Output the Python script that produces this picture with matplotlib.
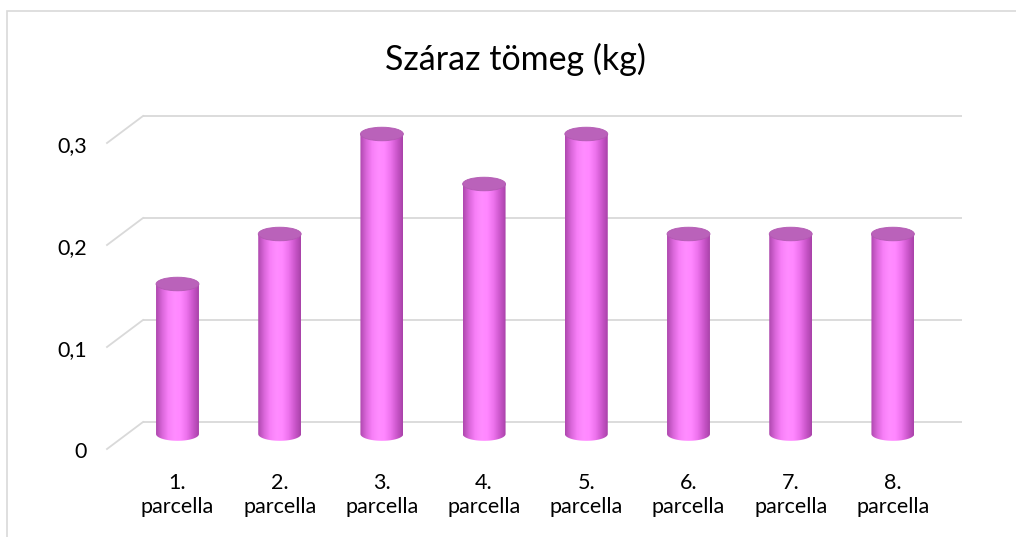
import numpy as np
import matplotlib
matplotlib.use("Agg")
import matplotlib.pyplot as plt
from matplotlib.patches import Polygon, Ellipse, Rectangle

# ---- data ----
categories = ["1.\nparcella", "2.\nparcella", "3.\nparcella", "4.\nparcella",
              "5.\nparcella", "6.\nparcella", "7.\nparcella", "8.\nparcella"]
values = [0.15, 0.2, 0.3, 0.25, 0.3, 0.2, 0.2, 0.2]
yticks = [0, 0.1, 0.2, 0.3]
ytick_labels = ["0", "0,1", "0,2", "0,3"]
title = "Száraz tömeg (kg)"

plt.rcParams['font.family'] = ['Lato', 'DejaVu Sans']

W, H = 1016, 537
fig = plt.figure(figsize=(W / 100, H / 100), dpi=100)

# pixel geometry helpers
px0, pdx = 177.5, 102.2      # center of first bar, spacing (px)
py0, pscale = 434.0, 1000.0  # baseline of cylinders (px from top), px per unit
ax_l, ax_r, ax_t, ax_b = 100, 970, 95, 470
ax = fig.add_axes([ax_l / W, 1 - ax_b / H, (ax_r - ax_l) / W, (ax_b - ax_t) / H])
ax.set_axis_off()

def xd(px):
    return (px - px0) / pdx

def yd(py):
    return (py0 - py) / pscale

grid_c = "#D9D9D9"
back_off = 0.012
front_off = -0.015
gscale = 1.02
for t in yticks:
    vb = back_off + gscale * t
    vf = front_off + gscale * t
    ax.plot([xd(143), xd(962)], [vb, vb], color=grid_c, lw=1.3, zorder=1,
            solid_capstyle='butt')
    ax.plot([xd(107), xd(143)], [vf, vb], color=grid_c, lw=1.3, zorder=1)

# tick labels
for t, lab in zip(yticks, ytick_labels):
    ax.text(xd(87), front_off + gscale * t - 0.003, lab, ha='right', va='center',
            fontsize=15.5, color="#000000", clip_on=False)

# cylinders
bw = 0.42
eh = 0.0068
grad_cols = np.array([
    [0.68, 0.28, 0.68],
    [0.85, 0.40, 0.85],
    [0.97, 0.50, 0.97],
    [1.00, 0.55, 1.00],
    [1.00, 0.53, 1.00],
    [0.93, 0.45, 0.93],
    [0.80, 0.34, 0.80],
    [0.66, 0.26, 0.66],
])
pos = np.linspace(0, 1, len(grad_cols))
xs = np.linspace(0, 1, 200)
grad = np.stack([np.interp(xs, pos, grad_cols[:, k]) for k in range(3)], axis=-1)[None, :, :]

for i, v in enumerate(values):
    x0, x1 = i - bw / 2, i + bw / 2
    tt = np.linspace(0, -np.pi, 60)
    bot = np.column_stack([i + bw / 2 * np.cos(tt), eh * np.sin(tt)])
    pts = np.vstack([[x0, v], [x1, v], bot])
    clip = Polygon(pts, closed=True, transform=ax.transData, facecolor='none',
                   edgecolor='none')
    ax.add_patch(clip)
    im = ax.imshow(grad, extent=(x0, x1, -eh, v), aspect='auto',
                   interpolation='bilinear', zorder=2)
    im.set_clip_path(clip)
    top = Ellipse((i, v), bw, 2 * eh, facecolor="#BA62BA", edgecolor="#B25AB2",
                  lw=0.6, zorder=3)
    ax.add_patch(top)

ax.set_xlim(xd(ax_l), xd(ax_r))
ax.set_ylim(yd(ax_b), yd(ax_t))

# category labels
for i, c in enumerate(categories):
    ax.text(i, yd(473), c, ha='center', va='top', fontsize=15.5,
            linespacing=1.22, color="#000000", clip_on=False)

# title
fig.text(515 / W, 1 - 59 / H, title, ha='center', va='center', fontsize=24.5,
         color="#000000")

# chart border
fig.patches.append(Rectangle((6.5 / W, -0.1), 1.2, 1 - 10.5 / H + 0.1,
                             transform=fig.transFigure, fill=False,
                             edgecolor=grid_c, lw=1.2))

fig.savefig("out.png", dpi=100, facecolor="white")
